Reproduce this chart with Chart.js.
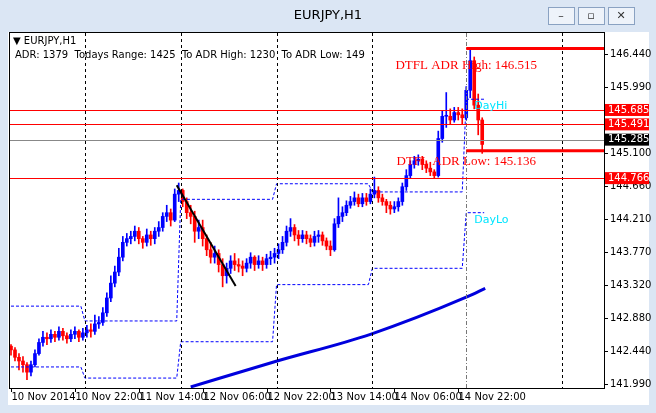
<!DOCTYPE html>
<html><head><meta charset="utf-8">
<script src="https://cdn.jsdelivr.net/npm/chart.js@4.4.1/dist/chart.umd.min.js"></script>
<style>html,body{margin:0;padding:0;background:#dbe6f4;}canvas{display:block}</style>
</head><body>
<canvas id="c" width="656" height="413"></canvas>
<script>
const firstOpen = 142.50;
const closes = [142.45,142.35,142.30,142.25,142.15,142.25,142.40,142.55,142.62,142.60,
142.66,142.62,142.70,142.64,142.60,142.66,142.70,142.62,142.68,142.72,142.70,142.80,142.82,
142.95,143.15,143.35,143.50,143.70,143.90,143.95,143.98,144.05,143.95,143.90,144.00,143.95,144.05,144.10,
144.25,144.30,144.20,144.55,144.60,144.45,144.30,144.25,144.05,144.10,143.95,143.80,143.70,143.75,143.60,
143.45,143.55,143.65,143.60,143.58,143.55,143.62,143.70,143.60,143.65,143.60,143.68,143.70,143.75,143.80,
143.90,144.05,144.10,144.00,143.95,144.00,143.95,143.90,143.98,144.00,143.92,143.85,143.80,144.15,144.25,
144.30,144.40,144.45,144.50,144.42,144.50,144.45,144.55,144.60,144.50,144.45,144.40,144.35,144.38,144.45,
144.65,144.80,144.95,145.00,145.02,144.95,144.90,144.85,144.80,145.30,145.60,145.60,145.55,145.65,145.62,
145.58,145.95,146.35,145.75,145.55,145.22];
const highs = [142.52,142.48,142.40,142.36,142.28,142.30,142.45,142.60,142.70,142.68,
142.72,142.70,142.76,142.74,142.68,142.72,142.76,142.72,142.74,142.78,142.80,142.92,142.90,
143.02,143.22,143.45,143.58,143.82,143.98,144.02,144.05,144.12,144.10,143.98,144.08,144.05,144.10,144.18,
144.30,144.40,144.35,144.62,144.70,144.62,144.50,144.40,144.32,144.20,144.20,144.00,143.90,143.85,143.80,
143.68,143.62,143.72,143.75,143.68,143.65,143.68,143.76,143.72,143.72,143.70,143.74,143.78,143.82,143.88,
143.98,144.12,144.22,144.14,144.06,144.06,144.05,144.00,144.05,144.06,144.04,143.96,143.92,144.22,144.50,
144.38,144.46,144.52,144.58,144.55,144.56,144.56,144.62,144.78,144.65,144.55,144.48,144.45,144.45,144.50,
144.70,144.88,145.00,145.06,145.08,145.06,145.00,144.98,144.88,145.40,145.68,145.92,145.70,145.72,145.72,
145.70,146.00,146.52,146.40,145.90,145.58];
const lows = [142.38,142.30,142.18,142.15,142.05,142.10,142.22,142.38,142.50,142.52,
142.55,142.56,142.58,142.58,142.54,142.56,142.60,142.56,142.58,142.62,142.62,142.66,142.74,
142.78,142.90,143.10,143.30,143.45,143.65,143.85,143.88,143.92,143.88,143.82,143.85,143.86,143.88,143.98,
144.05,144.18,144.12,144.18,144.45,144.38,144.22,144.15,143.90,143.95,143.85,143.72,143.62,143.62,143.50,
143.30,143.35,143.48,143.52,143.50,143.45,143.50,143.55,143.52,143.55,143.52,143.55,143.60,143.62,143.68,
143.75,143.85,143.98,143.92,143.86,143.90,143.88,143.84,143.85,143.90,143.86,143.80,143.72,143.78,144.10,
144.18,144.26,144.36,144.40,144.38,144.38,144.40,144.42,144.50,144.44,144.40,144.30,144.28,144.30,144.32,
144.40,144.60,144.76,144.90,144.94,144.88,144.84,144.80,144.76,144.78,145.25,145.45,145.50,145.52,145.55,
145.50,145.55,145.85,145.70,145.35,145.10];
const dayHiLevels = [143.04,142.84,144.48,144.69,144.58,145.83];
const dayLoLevels = [142.22,142.07,142.56,143.33,143.55,144.30];
const dayStarts = [0,18.5,42.5,66.5,90.5,114];
const dayEnds = [17.5,41.5,65.5,89.5,113,118.5];
const maBars = [45,66,90,114,118.75];
const maValues = [141.95,142.29,142.66,143.16,143.28];
const trendBars = [41.5,56.25];
const trendValues = [144.67,143.31];
const xTickBars = [0,16,32,48,64,80,96,112];
const xTickLabels = ['10 Nov 2014','10 Nov 22:00','11 Nov 14:00','12 Nov 06:00','12 Nov 22:00','13 Nov 14:00','14 Nov 06:00','14 Nov 22:00'];
const yTicks = [146.440,145.990,145.100,144.660,144.210,143.770,143.320,142.880,142.440,141.990];
const priceBoxes = [[145.685,'#ff0000'],[145.491,'#ff0000'],[145.285,'#000000'],[144.766,'#ff0000']];
const adrHigh = 146.515, adrLow = 145.136;
const gridBars = [18.5,42.5,66.5,90.5,138];

const opens = closes.map((c,i)=> i===0 ? firstOpen : closes[i-1]);
const col = i => closes[i] >= opens[i] ? '#0000ff' : '#ff0000';
const bodies = closes.map((c,i)=>({x:i,y:[opens[i],c]}));
const wicks = closes.map((c,i)=>({x:i,y:[lows[i],highs[i]]}));
function steps(levels){const pts=[];levels.forEach((v,k)=>{pts.push({x:dayStarts[k],y:v});pts.push({x:dayEnds[k],y:v});});return pts;}

const chrome = {
  id:'chrome',
  beforeDraw(ch){
    const g=ch.ctx; g.save();
    g.fillStyle='#dbe6f4'; g.fillRect(0,0,656,413);
    g.fillStyle='#ffffff'; g.fillRect(8,32,641,373);
    g.fillStyle='#000'; g.font='13px "DejaVu Sans"'; g.textAlign='center'; g.textBaseline='middle';
    g.fillText('EURJPY,H1',328,16);
    [[548,'–'],[578,'▫'],[608,'✕']].forEach(([x,t])=>{g.fillStyle='#eef3fa';g.strokeStyle='#8aa2c2';g.fillRect(x,7,26,17);g.strokeRect(x+.5,7.5,26,17);g.fillStyle='#333';g.font='11px "DejaVu Sans"';g.fillText(t,x+13,16);});
    g.restore();
  },
  afterDatasetsDraw(ch){
    const g=ch.ctx, xs=ch.scales.x, ys=ch.scales.y, a=ch.chartArea;
    g.save();
    g.setLineDash([3,3]); g.strokeStyle='#000'; g.lineWidth=1;
    gridBars.forEach(b=>{const x=Math.round(xs.getPixelForValue(b))+.5;g.beginPath();g.moveTo(x,a.top);g.lineTo(x,a.bottom);g.stroke();});
    g.setLineDash([4,2,1,2]); g.strokeStyle='#777';
    {const x=Math.round(xs.getPixelForValue(114))+.5;g.beginPath();g.moveTo(x,a.top);g.lineTo(x,a.bottom);g.stroke();}
    g.setLineDash([]);
    priceBoxes.forEach(([v,c])=>{const y=Math.round(ys.getPixelForValue(v))+.5;g.strokeStyle=c==='#000000'?'#888':'#ff0000';g.beginPath();g.moveTo(a.left,y);g.lineTo(a.right,y);g.stroke();});
    g.strokeStyle='#ff0000'; g.lineWidth=3;
    [adrHigh,adrLow].forEach(v=>{const y=ys.getPixelForValue(v);g.beginPath();g.moveTo(xs.getPixelForValue(114),y);g.lineTo(a.right,y);g.stroke();});
    g.fillStyle='#ff0000'; g.font='13px "Liberation Serif"'; g.textAlign='center'; g.textBaseline='middle';
    g.fillText('DTFL ADR High: 146.515',xs.getPixelForValue(114),ys.getPixelForValue(adrHigh)+17);
    g.fillText('DTFL ADR Low: 145.136',xs.getPixelForValue(114),ys.getPixelForValue(adrLow)+11);
    g.fillStyle='#00e5ff'; g.font='11px "DejaVu Sans"'; g.textAlign='left';
    g.fillText('DayHi',xs.getPixelForValue(116),ys.getPixelForValue(dayHiLevels[5])+7);
    g.fillText('DayLo',xs.getPixelForValue(116),ys.getPixelForValue(dayLoLevels[5])+7);
    g.fillStyle='#000'; g.font='10px "DejaVu Sans"';
    g.fillText('▼ EURJPY,H1',13,41);
    g.fillText('ADR: 1379  Todays Range: 1425  To ADR High: 1230  To ADR Low: 149',15,55);
    g.strokeStyle='#000'; g.lineWidth=1;
    g.strokeRect(a.left-.5,a.top-.5,a.right-a.left+1,a.bottom-a.top+1);
    g.font='10px "DejaVu Sans"';
    yTicks.forEach(v=>{const y=Math.round(ys.getPixelForValue(v))+.5;g.beginPath();g.moveTo(a.right,y);g.lineTo(a.right+4,y);g.stroke();g.fillStyle='#000';g.fillText(v.toFixed(3),a.right+6,y);});
    priceBoxes.forEach(([v,c])=>{const y=ys.getPixelForValue(v);g.fillStyle=c;g.fillRect(a.right+1,y-6,44,12);g.fillStyle='#fff';g.fillText(v.toFixed(3),a.right+4,y);});
    g.fillStyle='#000'; g.textBaseline='top';
    xTickBars.forEach((b,k)=>{const x=Math.round(xs.getPixelForValue(b))+.5;g.beginPath();g.moveTo(x,a.bottom);g.lineTo(x,a.bottom+4);g.stroke();g.fillText(xTickLabels[k],x,a.bottom+4);});
    g.restore();
  }
};

new Chart(document.getElementById('c'),{
  data:{datasets:[
    {type:'bar',data:bodies,backgroundColor:closes.map((c,i)=>col(i)),barThickness:3,grouped:false,minBarLength:1,order:2},
    {type:'bar',data:wicks,backgroundColor:closes.map((c,i)=>col(i)),barThickness:1,grouped:false,order:3},
    {type:'line',data:steps(dayHiLevels),borderColor:'#0000ff',borderWidth:1,borderDash:[3,2],pointRadius:0,order:1},
    {type:'line',data:steps(dayLoLevels),borderColor:'#0000ff',borderWidth:1,borderDash:[3,2],pointRadius:0,order:1},
    {type:'line',data:maBars.map((b,i)=>({x:b,y:maValues[i]})),borderColor:'#0000dd',borderWidth:3,pointRadius:0,cubicInterpolationMode:'monotone',order:1},
    {type:'line',data:trendBars.map((b,i)=>({x:b,y:trendValues[i]})),borderColor:'#000',borderWidth:2,pointRadius:0,order:0}
  ]},
  options:{responsive:false,animation:false,devicePixelRatio:1,
    layout:{padding:{left:10,top:33,right:52,bottom:25}},
    plugins:{legend:{display:false},tooltip:{enabled:false}},
    scales:{
      x:{type:'linear',min:-0.25,max:148.5,offset:false,grid:{offset:false},display:false},
      y:{type:'linear',min:141.936,max:146.723,display:false}
    }
  },
  plugins:[chrome]
});
</script>
</body></html>
